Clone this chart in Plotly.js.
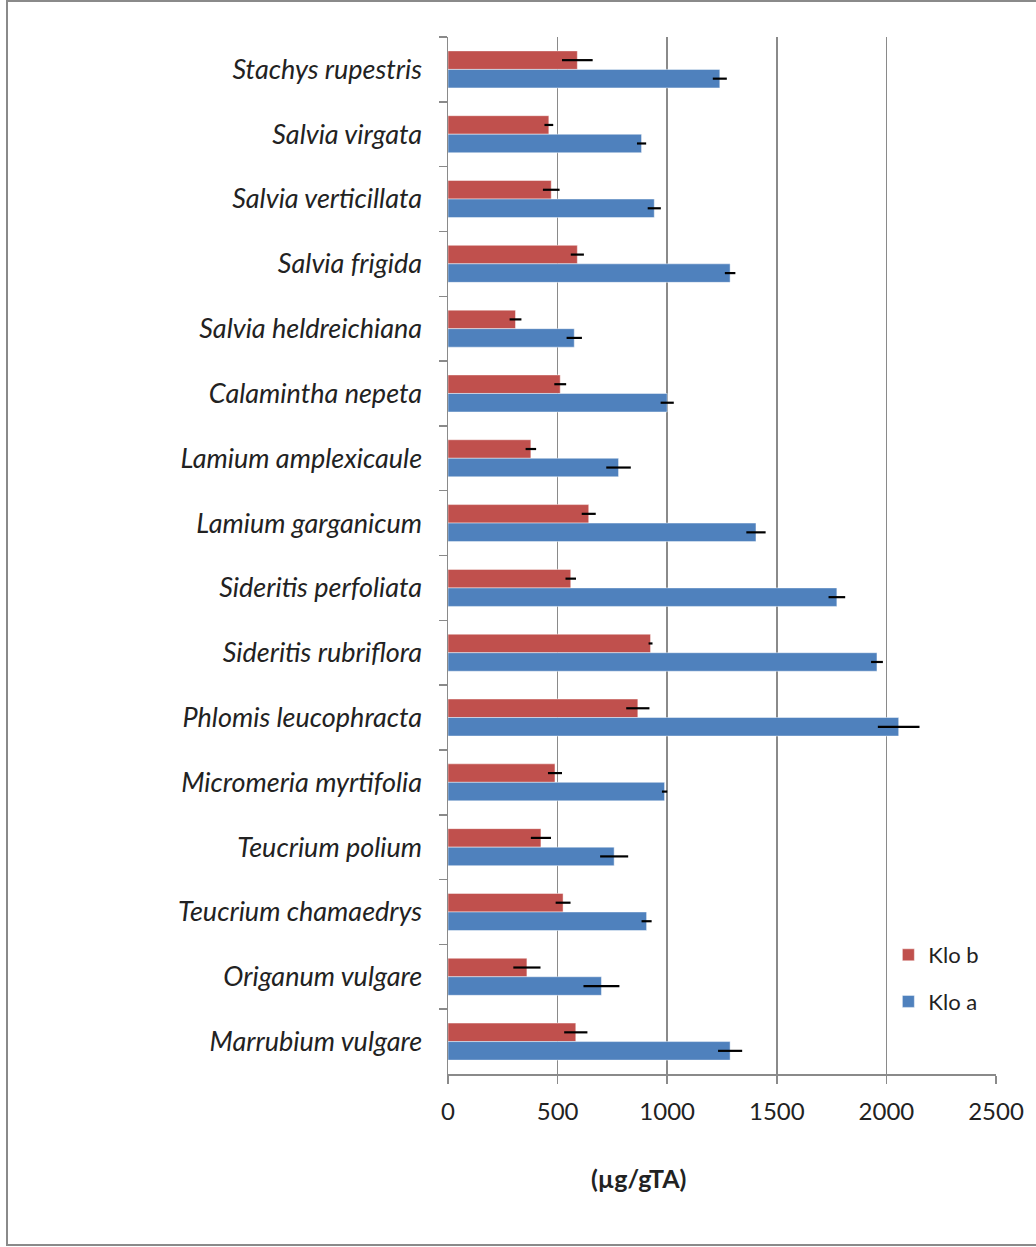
<!DOCTYPE html>
<html>
<head>
<meta charset="utf-8">
<script src="https://cdn.plot.ly/plotly-3.0.1.min.js"></script>
<style>
  html, body { margin: 0; padding: 0; background: #ffffff; overflow: hidden; }
  #chart { position: absolute; left: 0; top: 0; width: 1036px; height: 1247px; }
  #frame {
    position: absolute; left: 6px; top: 0; width: 1100px; height: 1246px;
    box-sizing: border-box; border: 2px solid #8a8a8a; pointer-events: none;
  }
</style>
</head>
<body>
<div id="chart"></div>
<div id="frame"></div>
<script>
// Species, listed top to bottom as they appear on the chart
const species = [
  "Stachys rupestris", "Salvia virgata", "Salvia verticillata", "Salvia frigida",
  "Salvia heldreichiana", "Calamintha nepeta", "Lamium amplexicaule", "Lamium garganicum",
  "Sideritis perfoliata", "Sideritis rubriflora", "Phlomis leucophracta", "Micromeria myrtifolia",
  "Teucrium polium", "Teucrium chamaedrys", "Origanum vulgare", "Marrubium vulgare"
];

// Chlorophyll b (µg/gTA) and its error
const kloB    = [590, 460, 471, 590, 308, 512, 378, 642, 560, 924, 866, 488, 424, 525, 360, 583];
const kloBErr = [ 70,  20,  38,  30,  27,  27,  24,  32,  24,   9,  53,  32,  46,  34,  62,  53];

// Chlorophyll a (µg/gTA) and its error
const kloA    = [1240, 883, 941, 1287, 576, 1000, 778, 1405, 1774, 1957, 2056, 988, 758, 906, 700, 1287];
const kloAErr = [  32,  21,  30,   24,  35,   30,  56,   44,   38,   27,   95,  12,  64,  23,  82,   55];

const xTicks = [0, 500, 1000, 1500, 2000, 2500];
const unitLabel = "(µg/gTA)";

const textColor = "#222222";
const lineColor = "#8a8a8a";
const fontFamily = "Lato, 'Open Sans', sans-serif";

function barTrace(name, values, errors, color, group) {
  return {
    type: "bar",
    orientation: "h",
    name: name,
    legendgroup: group,
    y: species,
    x: values,
    marker: { color: color, line: { color: "rgba(255,255,255,0.45)", width: 1 } },
    error_x: { type: "data", array: errors, visible: true, color: "#000000", thickness: 2.2, width: 0 },
    hoverinfo: "x+name"
  };
}

const data = [
  barTrace("Klo b", kloB, kloBErr, "#C0504D", "b"),
  barTrace("Klo a", kloA, kloAErr, "#4F81BD", "a")
];

const layout = {
  width: 1036,
  height: 1247,
  margin: { l: 448, r: 40, t: 37, b: 173 },
  paper_bgcolor: "#ffffff",
  plot_bgcolor: "#ffffff",
  barmode: "group",
  bargap: 0.4286,
  bargroupgap: 0,
  font: { family: fontFamily, color: textColor, size: 24 },
  showlegend: true,
  legend: {
    x: 0.8036, xanchor: "left",
    y: 0.135, yanchor: "top",
    bgcolor: "rgba(255,255,255,0)",
    borderwidth: 0,
    traceorder: "grouped",
    tracegroupgap: 15,
    font: { family: fontFamily, size: 22, color: textColor },
    itemwidth: 30
  },
  xaxis: {
    range: [0, 2500],
    tickvals: xTicks,
    ticktext: xTicks.map(String),
    showgrid: true,
    gridcolor: lineColor,
    gridwidth: 1.5,
    zeroline: false,
    showline: true,
    linecolor: lineColor,
    linewidth: 1.5,
    ticks: "outside",
    ticklen: 8,
    tickwidth: 1.5,
    tickcolor: lineColor,
    tickfont: { family: fontFamily, size: 24, color: textColor },
    ticklabelstandoff: 8,
    fixedrange: true
  },
  yaxis: {
    type: "category",
    autorange: "reversed",
    showgrid: false,
    zeroline: false,
    showline: true,
    linecolor: lineColor,
    linewidth: 1.5,
    ticks: "outside",
    tickson: "boundaries",
    ticklen: 8,
    tickwidth: 1.5,
    tickcolor: lineColor,
    tickfont: { family: fontFamily, size: 27, color: textColor, style: "italic" },
    ticklabelstandoff: 19,
    fixedrange: true
  },
  annotations: [{
    text: "<b>" + unitLabel + "</b>",
    xref: "paper", yref: "paper",
    x: 0.348, y: -0.1003,
    xanchor: "center", yanchor: "middle",
    showarrow: false,
    font: { family: fontFamily, size: 25, color: textColor }
  }]
};

Plotly.newPlot("chart", data, layout, { displayModeBar: false, staticPlot: true });
</script>
</body>
</html>
